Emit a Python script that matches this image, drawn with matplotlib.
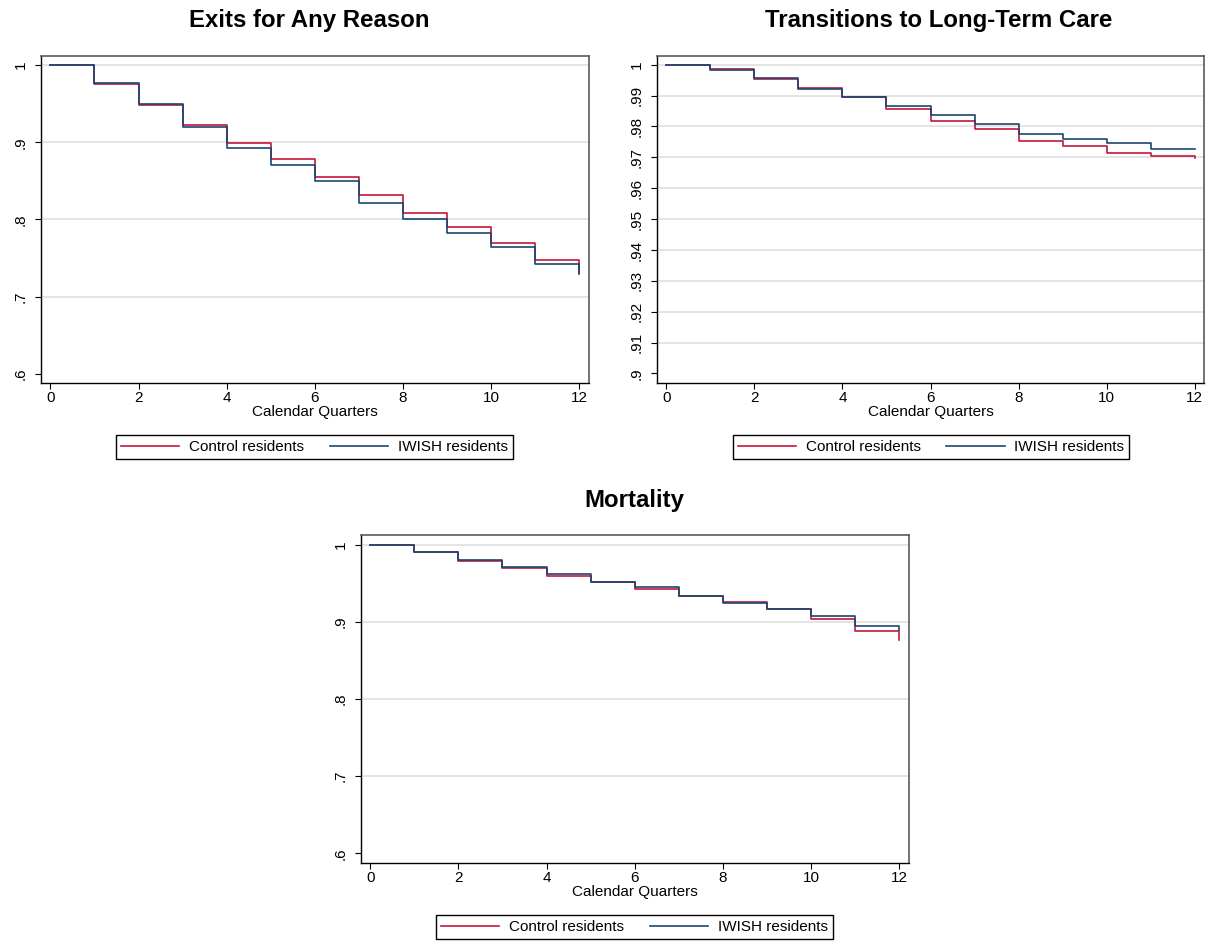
import numpy as np
import matplotlib.pyplot as plt

plt.rcParams['font.family'] = ['Liberation Sans', 'DejaVu Sans']

W, H = 1206, 941
RED = '#c8143c'
BLUE = '#1a476f'

# ---------------------------------------------------------------------------
# data (survival at each calendar quarter)
# ---------------------------------------------------------------------------
quarters = np.arange(0, 13)
x_ticks = [0, 2, 4, 6, 8, 10, 12]

exit_control = [1.0, 0.975, 0.948, 0.923, 0.899, 0.878, 0.855, 0.832, 0.809, 0.790, 0.769, 0.748, 0.731]
exit_iwish = [1.0, 0.977, 0.950, 0.920, 0.893, 0.870, 0.850, 0.822, 0.800, 0.783, 0.764, 0.742, 0.729]

ltc_control = [1.0, 0.9987, 0.9955, 0.9924, 0.9897, 0.9857, 0.9819, 0.9792, 0.9754, 0.9737, 0.9714, 0.9703, 0.9699]
ltc_iwish = [1.0, 0.9982, 0.9956, 0.9923, 0.9896, 0.9868, 0.9837, 0.9808, 0.9775, 0.9760, 0.9747, 0.9728, 0.9727]

mort_control = [1.0, 0.990, 0.979, 0.970, 0.960, 0.952, 0.943, 0.933, 0.926, 0.916, 0.904, 0.888, 0.877]
mort_iwish = [1.0, 0.991, 0.980, 0.971, 0.962, 0.952, 0.945, 0.934, 0.924, 0.916, 0.908, 0.895, 0.890]

yticks_wide = [1.0, 0.9, 0.8, 0.7, 0.6]
ylabels_wide = ['1', '.9', '.8', '.7', '.6']
yticks_ltc = [1.0, 0.99, 0.98, 0.97, 0.96, 0.95, 0.94, 0.93, 0.92, 0.91, 0.90]
ylabels_ltc = ['1', '.99', '.98', '.97', '.96', '.95', '.94', '.93', '.92', '.91', '.9']

titles = ['Exits for Any Reason', 'Transitions to Long-Term Care', 'Mortality']
series_names = ['Control residents', 'IWISH residents']

# ---------------------------------------------------------------------------
# layout (pixels, measured from top-left)
# ---------------------------------------------------------------------------
panels = [
    dict(title=titles[0], control=exit_control, iwish=exit_iwish,
         yticks=yticks_wide, ylabels=ylabels_wide, ylim=(0.6 - 0.0117, 1.0117),
         box=(40.7, 56, 589, 383), title_xy=(309, 26.7), legend_xy=(314.5, 447)),
    dict(title=titles[1], control=ltc_control, iwish=ltc_iwish,
         yticks=yticks_ltc, ylabels=ylabels_ltc, ylim=(0.9 - 0.0030, 1.0030),
         box=(656.8, 55.5, 1204.2, 382.7), title_xy=(939, 26.7), legend_xy=(931, 447)),
    dict(title=titles[2], control=mort_control, iwish=mort_iwish,
         yticks=yticks_wide, ylabels=ylabels_wide, ylim=(0.6 - 0.0122, 1.0125),
         box=(360.5, 535, 908.9, 862.7), title_xy=(634, 506.7), legend_xy=(634.5, 927)),
]

fig = plt.figure(figsize=(W / 100, H / 100), dpi=100)

for p in panels:
    l, t, r, b = p['box']
    ax = fig.add_axes([l / W, 1 - b / H, (r - l) / W, (b - t) / H])

    # horizontal grid (Stata leaves out the one at the bottom tick)
    for y in p['yticks'][:-1]:
        ax.axhline(y, color='#dcdcdc', lw=1.1, zorder=0.5)

    ax.step(quarters, p['control'], where='post', color=RED, lw=1.2, label=series_names[0], zorder=2)
    ax.step(quarters, p['iwish'], where='post', color=BLUE, lw=1.2, label=series_names[1], zorder=3)

    ax.set_xlim(-0.22, 12.22)
    ax.set_ylim(*p['ylim'])
    ax.set_xticks(x_ticks)
    ax.set_yticks(p['yticks'])
    ax.set_yticklabels(p['ylabels'], rotation=90, va='center')
    ax.tick_params(axis='both', length=4.3, width=0.8, labelsize=11, colors='black')
    ax.tick_params(axis='x', pad=1.5)
    ax.tick_params(axis='y', pad=5)
    ax.set_xlabel('Calendar Quarters', fontsize=11, labelpad=0)

    for side in ['left', 'bottom']:
        ax.spines[side].set_color('black')
        ax.spines[side].set_linewidth(1.0)
    for side in ['top', 'right']:
        ax.spines[side].set_color('#5a5a5a')
        ax.spines[side].set_linewidth(1.2)

    lx, ly = p['legend_xy']
    leg = ax.legend(loc='center', bbox_to_anchor=(lx / W, 1 - ly / H), bbox_transform=fig.transFigure,
                    ncol=2, fontsize=11, handlelength=3.8, handletextpad=0.65, columnspacing=1.7,
                    borderpad=0.3, fancybox=False, framealpha=1, edgecolor='black')
    leg.get_frame().set_linewidth(1.0)

    tx, ty = p['title_xy']
    fig.text(tx / W, 1 - ty / H, p['title'], ha='center', va='baseline',
             fontsize=17.3, fontweight='bold')

fig.savefig('out.png', dpi=100)
